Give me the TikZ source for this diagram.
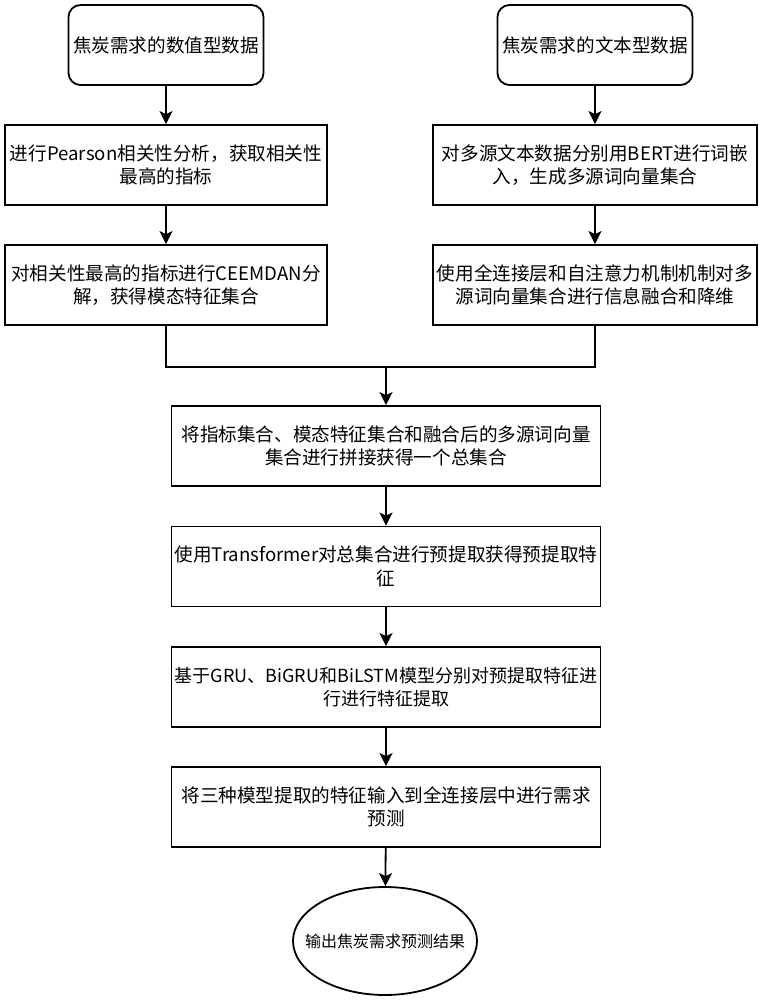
\documentclass[tikz,border=0pt]{standalone}
\usepackage{fontspec}
\newfontfamily\cjk{Noto Sans CJK SC}
\usetikzlibrary{arrows.meta,shapes.geometric}
\begin{document}
\begin{tikzpicture}[x=1pt,y=-1pt,
  base/.style={draw=black,line width=1.8pt,fill=white,align=center,inner sep=0pt,
    font=\cjk\fontsize{18.6}{23.5}\selectfont},
  startbox/.style={base,rounded corners=12pt,minimum width=195pt,minimum height=80pt},
  procbox/.style={base,minimum height=80pt},
  endell/.style={base,ellipse,inner xsep=-16pt,inner ysep=0pt,minimum width=184pt,minimum height=108pt,
    font=\cjk\fontsize{16}{20}\selectfont},
  conn/.style={line width=1.8pt},
  arr/.style={conn,-{Stealth[length=13pt,width=13pt,inset=3pt]}}]
\useasboundingbox (0,0) rectangle (759,1000);
\node[startbox] (n1) at (166,45) {焦炭需求的数值型数据};
\node[startbox] (t1) at (595,45) {焦炭需求的文本型数据};
\node[procbox,minimum width=322pt] (n2) at (166,165) {进行Pearson相关性分析，获取相关性\\最高的指标};
\node[procbox,minimum width=322pt] (n3) at (166,285) {对相关性最高的指标进行CEEMDAN分\\解，获得模态特征集合};
\node[procbox,minimum width=324pt] (t2) at (595,165) {对多源文本数据分别用BERT进行词嵌\\入，生成多源词向量集合};
\node[procbox,minimum width=324pt] (t3) at (595,285) {使用全连接层和自注意力机制机制对多\\源词向量集合进行信息融合和降维};
\node[procbox,minimum width=429pt] (m1) at (386,446) {将指标集合、模态特征集合和融合后的多源词向量\\集合进行拼接获得一个总集合};
\node[procbox,minimum width=429pt] (m2) at (386,566.5) {使用Transformer对总集合进行预提取获得预提取特\\征};
\node[procbox,minimum width=429pt,font=\cjk\fontsize{18}{23.5}\selectfont] (m3) at (386,687) {基于GRU、BiGRU和BiLSTM模型分别对预提取特征进\\行进行特征提取};
\node[procbox,minimum width=429pt] (m4) at (386,807) {将三种模型提取的特征输入到全连接层中进行需求\\预测};
\node[endell] (e) at (385,941) {输出焦炭需求预测结果};
\coordinate (jl) at (166,367);
\coordinate (jr) at (595,367);
\coordinate (jm) at (386,367);
\draw[arr] (n1) -- (n2);
\draw[arr] (n2) -- (n3);
\draw[arr] (t1) -- (t2);
\draw[arr] (t2) -- (t3);
\draw[conn] (n3.south) -- (jl) -- (jr) -- (t3.south);
\draw[arr] (jm) -- (m1);
\draw[arr] (m1) -- (m2);
\draw[arr] (m2) -- (m3);
\draw[arr] (m3) -- (m4);
\draw[arr] (m4) -- (e);
\end{tikzpicture}
\end{document}
